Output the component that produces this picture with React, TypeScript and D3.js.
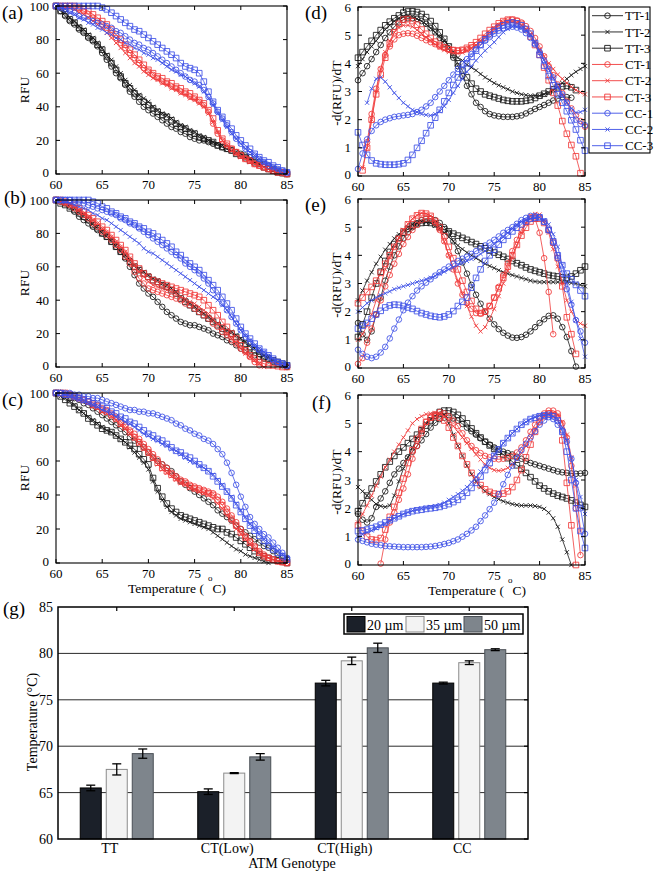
import React from "react";
import * as d3 from "d3";

// ---------- shared axes ----------
const TEMPS = d3.range(60, 85.25, 0.5); // 51 temperature steps
const SERIES_NAMES = ["TT-1", "TT-2", "TT-3", "CT-1", "CT-2", "CT-3", "CC-1", "CC-2", "CC-3"];
const X_TICKS = [60, 65, 70, 75, 80, 85];
const RFU_TICKS = [0, 20, 40, 60, 80, 100];
const DERIV_TICKS = [0, 1, 2, 3, 4, 5, 6];

// ---------- panel (a) RFU ----------
const A_TT1 = [100,97,94,91,89,86,84,81,79,76,72,68,64,60,57,53,49,46,43,40,38,36,34,32,30,28,27,25,24,22,21,20,20,19,18,17,16,15,14,13,12,11,10,8,7,6,5,3,2,1,0];
const A_TT2 = [100,98,96,93,91,88,86,83,81,78,75,71,68,64,60,56,53,50,47,45,43,40,38,36,35,33,31,29,28,26,25,23,22,20,19,18,17,15,14,13,12,10,9,7,6,4,3,2,1.5,1,0];
const A_TT3 = [100,97,95,92,90,87,85,82,80,77,74,70,66,62,58,54,51,48,46,43,41,39,37,35,34,32,30,28,27,25,24,22,21,20,19,17,16,15,14,12,11,10,8,7,6,4,3,2,1,0.5,0];
const A_CT1 = [100,100,100,100,99,98,97,95,93,91,89,87,84,81,78,75,72,69,66,63,61,59,57,55,54,52,51,49,48,46,45,43,41,37,30,24,20,17,15,13,11,9,8,6,5,4,3,2,1,0.5,0];
const A_CT2 = [100,100,99,99,98,96,95,93,91,89,87,84,81,78,75,72,69,66,64,61,59,57,56,54,53,51,50,48,47,45,44,42,40,36,31,25,20,17,14,12,10,9,7,6,5,4,3,2,1,0.5,0];
const A_CT3 = [100,100,100,100,100,99,98,97,95,93,91,89,86,83,80,77,74,71,68,65,62,60,58,57,55,54,52,51,49,48,46,44,42,38,33,26,21,18,15,13,11,9,8,6,5,4,3,2,1,1,0];
const A_CC1 = [100,99,98,97,96,94,93,92,91,90,89,88,87,85,84,82,80,78,77,75,74,72,70,68,66,64,62,60,58,56,55,53,50,46,42,37,33,29,25,21,18,15,13,11,9,7,5,4,3,2,1];
const A_CC2 = [100,99,98,96,95,93,92,90,89,87,86,84,83,81,80,78,77,75,74,72,71,69,68,66,64,62,61,59,58,56,54,52,49,45,41,36,32,28,24,21,18,15,13,11,9,7,6,4,3,2,1];
const A_CC3 = [100,100,100,100,100,100,100,100,100,100,99,98,96,94,92,90,88,86,85,83,81,79,77,75,73,71,69,66,64,63,62,60,55,49,43,38,34,30,27,23,20,17,15,12,10,8,7,5,4,2,1];

// ---------- panel (b) RFU ----------
const B_TT1 = [100,99,98,96,93,90,88,86,84,82,80,78,75,72,69,65,60,55,50,47,44,42,39,36,33,31,29,27,26,25,25,24,23,22,20,19,18,16,15,13,11,10,8,7,6,5,4,3,2,1,0];
const B_TT2 = [100,99,98,97,95,93,91,89,86,84,81,79,76,73,70,67,64,61,59,57,55,53,52,50,49,47,45,42,40,38,36,34,32,30,28,26,24,22,21,19,17,15,13,11,9,7,6,4,3,1,0];
const B_TT3 = [100,98,97,95,94,92,90,88,85,83,80,78,75,72,69,66,63,60,58,56,54,52,51,49,48,46,44,41,39,37,35,33,31,29,27,25,23,21,20,18,16,14,12,10,8,6,5,4,3,2,1];
const B_CT1 = [100,99,98,97,95,93,91,89,86,84,81,79,76,73,70,66,62,57,53,50,47,46,45,44,43,42,41,40,38,37,35,33,31,29,26,24,21,19,16,14,11,9,6,3,1,null,null,null,null,null,null];
const B_CT2 = [100,99,98,97,96,94,92,90,88,86,83,81,78,75,72,69,65,61,57,54,51,49,48,47,46,45,44,42,41,39,38,36,34,32,29,26,23,20,17,14,11,8,6,4,2,0,null,null,null,null,null];
const B_CT3 = [100,100,99,98,97,95,93,91,89,87,84,82,79,76,73,70,66,62,59,56,54,52,51,50,49,48,47,46,45,44,43,42,40,37,34,31,27,24,20,17,13,10,7,5,3,2,1,1,0.5,0,0];
const B_CC1 = [100,100,100,100,99,99,98,97,96,95,94,93,92,91,89,88,86,85,83,81,79,77,75,73,71,69,67,65,62,60,58,56,53,50,46,42,38,34,30,26,22,18,15,12,10,8,6,4,3,2,1];
const B_CC2 = [100,100,99,98,97,96,95,94,92,91,89,88,86,84,82,80,78,76,74,71,69,68,66,64,62,60,58,56,54,52,50,48,46,44,42,40,37,34,30,26,22,19,16,13,11,9,7,5,3,2,1];
const B_CC3 = [100,100,100,100,100,100,100,100,99,98,96,95,93,92,90,89,87,86,84,83,81,80,78,76,74,72,69,67,64,62,60,58,55,52,49,46,42,38,34,29,24,20,17,14,11,9,7,5,3,2,1];

// ---------- panel (c) RFU ----------
const C_TT1 = [100,100,99,98,97,96,94,93,91,89,87,85,83,81,79,77,74,72,70,68,65,62,60,58,56,54,51,48,46,44,42,40,38,36,34,31,29,27,25,22,20,18,16,14,12,10,9,7,5,3,2];
const C_TT2 = [100,98,97,95,93,90,88,86,84,82,80,78,77,75,73,71,68,65,62,59,55,48,42,37,33,30,28,26,25,24,23,22,21,20,18,16,14,12,10,8,7,5,4,3,2,1,0,null,null,null,null];
const C_TT3 = [100,98,96,94,92,90,88,85,83,81,79,78,77,75,73,71,69,67,64,61,58,50,44,39,35,32,30,28,27,26,25,24,23,22,21,20,20,18,17,15,13,11,9,7,5,4,3,2,1.5,1,0];
const C_CT1 = [100,100,99,99,98,97,96,95,94,93,91,90,88,86,83,81,78,76,73,70,67,64,61,58,56,53,51,49,48,46,45,44,43,42,41,39,36,32,28,24,20,16,13,10,7,5,3,2,1,0.5,0];
const C_CT2 = [100,100,99,98,97,96,95,94,92,91,89,88,86,84,81,79,76,73,70,67,64,61,58,55,53,51,49,47,46,44,43,42,41,40,38,35,32,28,24,20,17,14,11,8,6,4,3,2,1,0.5,0];
const C_CT3 = [100,100,100,99,98,97,96,95,93,92,90,89,87,85,82,80,77,74,71,68,65,62,59,56,54,52,50,48,47,45,44,43,42,41,40,37,34,30,26,22,18,15,12,9,6,4,3,2,1,0.5,0];
const C_CC1 = [100,100,100,100,99,99,98,98,97,97,96,95,94,93,92,91,90,90,89,89,88,88,87,86,85,84,82,81,79,78,76,75,73,72,70,67,64,59,53,46,39,33,27,23,20,17,15,12,9,6,3];
const C_CC2 = [100,100,99,98,97,96,95,94,93,92,90,89,88,86,85,83,82,80,78,76,75,73,72,70,69,67,66,64,62,60,59,57,56,54,52,49,46,42,39,35,31,27,23,20,17,14,12,9,7,5,3];
const C_CC3 = [100,100,99,99,98,97,96,95,94,93,92,91,89,88,86,85,83,82,80,78,76,75,73,72,70,68,66,65,63,62,60,58,56,54,51,48,45,42,38,34,30,26,22,19,16,13,10,8,6,4,2];

// ---------- panel (d) -d(RFU)/dT ----------
const D_TT1 = [3.4,3.65,3.9,4.15,4.4,4.65,4.9,5.1,5.3,5.45,5.55,5.6,5.6,5.58,5.5,5.4,5.25,5.1,4.9,4.7,4.5,4.2,3.9,3.55,3.2,2.9,2.6,2.45,2.3,2.2,2.15,2.12,2.1,2.1,2.1,2.12,2.15,2.22,2.3,2.38,2.45,2.52,2.6,2.68,2.75,2.8,2.8,2.78,null,null,null];
const D_TT2 = [3.9,4.15,4.4,4.6,4.8,5.0,5.2,5.35,5.5,5.6,5.65,5.67,5.65,5.58,5.5,5.38,5.25,5.1,4.95,4.8,4.6,4.4,4.2,4.1,3.95,3.85,3.75,3.62,3.5,3.4,3.3,3.22,3.15,3.08,3.0,2.95,2.9,2.87,2.85,2.85,2.85,2.9,2.95,3.05,3.15,3.3,3.45,3.58,3.7,3.8,3.9];
const D_TT3 = [4.2,4.4,4.6,4.8,5.0,5.18,5.35,5.48,5.6,5.7,5.8,5.84,5.85,5.82,5.75,5.64,5.5,5.32,5.1,4.87,4.6,4.3,4.0,3.74,3.5,3.28,3.1,3.0,2.9,2.85,2.8,2.75,2.7,2.67,2.65,2.65,2.65,2.67,2.7,2.77,2.85,2.92,3.0,3.08,3.15,3.18,3.2,3.15,3.05,null,null];
const D_CT1 = [null,null,1.2,2.2,3.1,3.8,4.3,4.6,4.85,5.0,5.05,5.07,5.05,4.98,4.9,4.82,4.75,4.68,4.6,4.55,4.5,4.47,4.45,4.46,4.5,4.57,4.65,4.77,4.9,5.05,5.2,5.33,5.45,5.52,5.55,5.52,5.45,5.32,5.15,4.9,4.6,4.25,3.9,3.58,3.25,2.95,2.65,2.4,2.15,1.95,1.75];
const D_CT2 = [null,0.3,1.0,2.0,3.0,3.8,4.4,4.8,5.1,5.27,5.35,5.35,5.3,5.18,5.05,4.92,4.8,4.67,4.55,4.47,4.4,4.37,4.35,4.38,4.45,4.54,4.65,4.8,4.95,5.1,5.25,5.37,5.45,5.49,5.5,5.45,5.35,5.2,5.0,4.77,4.5,4.25,4.0,3.8,3.6,3.45,3.3,3.17,3.05,2.97,2.9];
const D_CT3 = [null,0.2,1.0,2.0,2.9,3.6,4.2,4.7,5.1,5.4,5.55,5.57,5.5,5.37,5.2,5.05,4.9,4.77,4.65,4.57,4.5,4.47,4.45,4.48,4.55,4.64,4.75,4.9,5.05,5.18,5.3,5.42,5.5,5.55,5.55,5.5,5.4,5.2,4.95,4.65,4.3,3.85,3.4,2.95,2.5,1.95,1.5,1.1,0.7,0.1,null];
const D_CC1 = [0.25,0.8,1.3,1.6,1.8,1.92,2.0,2.05,2.1,2.12,2.15,2.17,2.2,2.27,2.35,2.47,2.6,2.8,3.0,3.2,3.4,3.6,3.8,3.98,4.15,4.33,4.5,4.65,4.8,4.93,5.05,5.16,5.25,5.29,5.3,5.27,5.2,5.07,4.9,4.67,4.4,4.1,3.8,3.5,3.2,2.9,2.6,2.3,2.0,1.85,1.8];
const D_CC2 = [null,null,2.6,3.1,3.45,3.5,3.35,3.15,2.95,2.77,2.6,2.47,2.35,2.27,2.2,2.17,2.15,2.2,2.3,2.48,2.7,2.95,3.2,3.45,3.7,3.9,4.1,4.28,4.45,4.6,4.75,4.93,5.1,5.22,5.3,5.3,5.25,5.15,5.0,4.75,4.45,4.12,3.8,3.47,3.15,2.87,2.6,2.4,2.25,2.27,2.35];
const D_CC3 = [1.55,1.1,0.75,0.55,0.45,0.42,0.4,0.4,0.4,0.42,0.45,0.57,0.75,1.0,1.25,1.52,1.8,2.07,2.35,2.65,2.95,3.23,3.5,3.75,4.0,4.23,4.45,4.65,4.85,5.0,5.15,5.26,5.35,5.42,5.45,5.42,5.35,5.22,5.05,4.72,4.3,3.92,3.55,3.22,2.9,2.6,2.3,1.98,1.65,1.27,0.9];

// ---------- panel (e) -d(RFU)/dT ----------
const E_TT1 = [1.6,1.2,1.0,1.3,1.9,2.5,3.1,3.6,4.0,4.32,4.6,4.82,5.0,5.14,5.25,5.3,5.3,5.25,5.15,5.0,4.8,4.5,4.15,3.75,3.35,2.95,2.6,2.28,2.0,1.75,1.55,1.38,1.25,1.15,1.08,1.07,1.1,1.18,1.3,1.45,1.6,1.73,1.85,1.87,1.75,1.45,1.1,0.6,0.05,null,null];
const E_TT2 = [2.4,2.75,3.1,3.4,3.7,3.95,4.2,4.4,4.6,4.75,4.9,5.0,5.1,5.15,5.2,5.18,5.15,5.05,4.95,4.8,4.65,4.5,4.35,4.22,4.1,4.0,3.9,3.8,3.7,3.62,3.55,3.47,3.4,3.35,3.3,3.25,3.2,3.15,3.1,3.07,3.05,3.05,3.05,3.05,3.05,3.05,3.05,3.02,3.0,2.95,2.9];
const E_TT3 = [1.1,1.55,2.0,2.5,3.0,3.42,3.8,4.12,4.4,4.62,4.8,4.94,5.05,5.11,5.15,5.16,5.15,5.1,5.0,4.92,4.85,4.77,4.7,4.62,4.55,4.47,4.4,4.32,4.25,4.17,4.1,4.02,3.95,3.87,3.8,3.72,3.65,3.57,3.5,3.45,3.4,3.35,3.3,3.27,3.25,3.22,3.2,3.25,3.35,3.47,3.6];
const E_CT1 = [0.15,0.35,0.9,1.4,1.9,2.4,2.9,3.3,3.7,4.05,4.4,4.65,4.9,5.08,5.25,5.3,5.3,5.15,4.9,4.5,4.0,3.5,3.0,2.6,2.3,2.1,1.95,1.93,2.0,2.2,2.5,2.88,3.3,3.72,4.15,4.55,4.9,5.17,5.35,5.3,4.8,3.9,2.7,1.2,null,null,null,null,null,null,null];
const E_CT2 = [1.0,1.2,1.5,1.9,2.4,2.95,3.5,3.92,4.3,4.62,4.9,5.12,5.3,5.42,5.5,5.48,5.4,5.2,4.9,4.48,4.0,3.55,3.1,2.65,2.2,1.82,1.5,1.3,1.45,1.75,2.1,2.55,3.0,3.45,3.9,4.35,4.8,5.15,5.4,5.47,5.45,5.2,4.8,4.22,3.6,3.0,2.4,2.0,1.7,1.58,1.5];
const E_CT3 = [2.3,2.5,2.7,2.88,3.1,3.38,3.7,4.0,4.3,4.58,4.85,5.1,5.3,5.42,5.5,5.48,5.4,5.22,5.0,4.68,4.3,3.9,3.5,3.1,2.7,2.38,2.1,1.95,2.0,2.2,2.5,2.83,3.2,3.6,4.0,4.37,4.7,4.98,5.2,5.3,5.3,5.15,4.9,4.45,3.9,2.9,1.8,1.2,0.5,null,null];
const E_CC1 = [0.65,0.5,0.4,0.35,0.4,0.55,0.75,1.05,1.4,1.72,2.05,2.32,2.55,2.75,2.9,3.03,3.15,3.28,3.4,3.5,3.6,3.7,3.8,3.88,3.95,4.05,4.15,4.25,4.35,4.45,4.55,4.67,4.8,4.9,5.0,5.12,5.25,5.33,5.4,5.4,5.35,5.18,4.9,4.45,3.9,3.35,2.8,2.25,1.7,1.3,0.9];
const E_CC2 = [2.0,2.15,2.3,2.4,2.5,2.58,2.65,2.72,2.8,2.85,2.9,2.95,3.0,3.05,3.1,3.15,3.2,3.27,3.35,3.42,3.5,3.57,3.65,3.72,3.8,3.87,3.95,4.05,4.15,4.27,4.4,4.52,4.65,4.8,4.95,5.08,5.2,5.25,5.3,5.33,5.35,5.25,5.1,4.75,4.3,3.65,3.0,2.35,1.7,1.05,0.4];
const E_CC3 = [1.4,1.5,1.6,1.75,1.9,2.03,2.15,2.22,2.25,2.24,2.2,2.15,2.1,2.02,1.95,1.9,1.85,1.82,1.8,1.83,1.9,2.02,2.2,2.35,2.5,2.85,3.2,3.5,3.8,4.0,4.2,4.38,4.55,4.7,4.85,4.98,5.1,5.2,5.3,5.33,5.35,5.2,4.9,4.5,4.0,3.65,3.35,3.15,2.95,2.75,2.55];

// ---------- panel (f) -d(RFU)/dT ----------
const F_TT1 = [1.8,1.6,1.5,1.65,2.05,2.35,2.6,2.9,3.2,3.4,3.6,3.8,4.0,4.2,4.4,4.62,4.85,5.02,5.15,5.2,5.2,5.17,5.1,4.98,4.85,4.72,4.6,4.47,4.35,4.25,4.15,4.07,4.0,3.95,3.9,3.82,3.75,3.67,3.6,3.55,3.5,3.45,3.4,3.35,3.3,3.27,3.25,3.23,3.22,3.23,3.25];
const F_TT2 = [2.75,2.6,2.45,2.3,2.15,2.08,2.05,2.1,2.45,2.95,3.4,3.8,4.15,4.48,4.8,5.0,5.15,5.25,5.32,5.3,5.0,4.6,4.2,3.85,3.5,3.2,2.95,2.75,2.6,2.5,2.4,2.32,2.25,2.2,2.15,2.12,2.1,2.1,2.1,2.08,2.05,1.98,1.85,1.65,1.35,0.9,0.45,0.0,null,null,null];
const F_TT3 = [1.9,2.18,2.45,2.7,2.95,3.2,3.45,3.65,3.85,4.0,4.15,4.3,4.45,4.6,4.75,4.92,5.1,5.27,5.4,5.45,5.45,5.4,5.3,5.17,5.0,4.82,4.65,4.5,4.35,4.22,4.1,4.0,3.9,3.77,3.65,3.52,3.4,3.25,3.1,2.95,2.8,2.7,2.6,2.52,2.45,2.4,2.35,2.28,2.2,2.12,2.05];
const F_CT1 = [null,null,null,null,null,0.05,0.9,1.5,1.85,2.3,2.7,3.2,3.75,4.2,4.65,5.05,5.2,5.32,5.4,5.35,5.25,5.1,4.9,4.65,4.4,4.2,4.05,3.95,3.85,3.8,3.75,3.73,3.75,3.8,3.85,3.97,4.15,4.4,4.7,4.95,5.2,5.35,5.45,5.45,5.35,5.0,4.5,3.5,2.0,0.35,null];
const F_CT2 = [1.5,1.8,2.1,2.45,2.8,3.12,3.45,3.72,4.0,4.25,4.5,4.75,5.0,5.15,5.25,5.32,5.35,5.37,5.35,5.25,5.1,4.9,4.7,4.5,4.3,4.1,3.9,3.72,3.55,3.43,3.35,3.33,3.35,3.43,3.55,3.73,3.95,4.2,4.5,4.78,5.05,5.25,5.35,5.37,5.3,5.05,4.6,3.8,2.8,1.2,null];
const F_CT3 = [1.4,1.2,1.0,0.9,0.88,0.95,1.25,1.7,2.05,2.55,3.05,3.6,4.05,4.45,4.8,5.05,5.2,5.25,5.2,5.1,4.85,4.5,4.2,3.85,3.55,3.25,3.0,2.82,2.67,2.58,2.52,2.5,2.52,2.6,2.75,3.0,3.35,3.8,4.25,4.7,5.05,5.25,5.35,5.3,5.2,4.4,2.9,1.4,0.0,null,null];
const F_CC1 = [0.9,0.85,0.8,0.75,0.72,0.7,0.67,0.66,0.65,0.64,0.63,0.63,0.63,0.63,0.63,0.64,0.65,0.67,0.7,0.74,0.78,0.84,0.9,1.0,1.1,1.22,1.35,1.55,1.75,1.97,2.2,2.5,2.85,3.18,3.5,3.78,4.05,4.28,4.5,4.72,4.95,5.1,5.22,5.15,4.95,4.75,4.35,3.75,2.9,2.0,1.1];
const F_CC2 = [1.0,1.08,1.15,1.22,1.3,1.38,1.45,1.55,1.65,1.72,1.8,1.86,1.92,1.96,2.0,2.03,2.05,2.08,2.12,2.2,2.3,2.4,2.5,2.62,2.75,2.92,3.1,3.3,3.5,3.7,3.9,4.1,4.3,4.48,4.65,4.8,4.95,5.05,5.15,5.22,5.28,5.3,5.3,5.25,5.15,4.85,4.4,3.75,3.0,2.4,1.8];
const F_CC3 = [1.2,1.22,1.25,1.3,1.35,1.42,1.5,1.58,1.65,1.72,1.8,1.85,1.9,1.93,1.95,1.98,2.0,2.02,2.05,2.1,2.15,2.22,2.3,2.42,2.55,2.72,2.9,3.12,3.35,3.6,3.85,4.08,4.3,4.48,4.65,4.8,4.95,5.05,5.15,5.2,5.25,5.28,5.3,5.25,5.1,4.7,4.0,3.0,2.0,1.2,0.6];

// ---------- panel (g) bars ----------
const GENOTYPES = ["TT", "CT(Low)", "CT(High)", "CC"];
const SIZES = ["20 µm", "35 µm", "50 µm"];
const MELT_20 = [65.5, 65.1, 76.8, 76.8];
const MELT_35 = [67.5, 67.1, 79.2, 79.0];
const MELT_50 = [69.2, 68.85, 80.6, 80.4];
const ERR_20 = [0.3, 0.3, 0.3, 0.1];
const ERR_35 = [0.6, 0.05, 0.4, 0.2];
const ERR_50 = [0.5, 0.35, 0.5, 0.1];
const BAR_TICKS = [60, 65, 70, 75, 80, 85];
const GRID_VALUES = [65, 70, 75, 80];

// ---------- styling ----------
const FONT = "'Liberation Serif', 'Times New Roman', serif";
const GROUP_COLORS = ["#161616", "#f03a3a", "#3d50e6"];
const MARKER_KINDS = ["circle", "x", "square"];

function markerD(kind: string, x: number, y: number): string {
  if (kind === "circle") {
    const r = 2.8;
    return `M${x - r},${y}a${r},${r} 0 1,0 ${2 * r},0a${r},${r} 0 1,0 ${-2 * r},0`;
  }
  if (kind === "square") {
    const h = 2.8;
    return `M${x - h},${y - h}h${2 * h}v${2 * h}h${-2 * h}Z`;
  }
  const h = 2.1;
  return `M${x - h},${y - h}L${x + h},${y + h}M${x - h},${y + h}L${x + h},${y - h}`;
}

type PanelProps = {
  x0: number; x1: number; y0: number; y1: number;
  yMax: number; yTicks: number[]; series: (number | null)[][];
};

function LinePanel({ x0, x1, y0, y1, yMax, yTicks, series }: PanelProps) {
  const xs = d3.scaleLinear().domain([60, 85]).range([x0, x1]);
  const ys = d3.scaleLinear().domain([0, yMax]).range([y1, y0]);
  const line = d3
    .line<[number, number | null]>()
    .defined((d) => d[1] != null)
    .x((d) => xs(d[0]))
    .y((d) => ys(d[1] as number));
  const tl = 4;
  return (
    <g>
      {series.map((vals, i) => {
        const pts: [number, number | null][] = TEMPS.map((t, j) => [t, vals[j] ?? null]);
        const color = GROUP_COLORS[Math.floor(i / 3)];
        const kind = MARKER_KINDS[i % 3];
        const md = pts
          .filter((p) => p[1] != null)
          .map((p) => markerD(kind, xs(p[0]), ys(p[1] as number)))
          .join("");
        return (
          <g key={i}>
            <path d={line(pts) || ""} fill="none" stroke={color} strokeWidth={0.8} />
            <path d={md} fill="none" stroke={color} strokeWidth={0.85} />
          </g>
        );
      })}
      <rect x={x0} y={y0} width={x1 - x0} height={y1 - y0} fill="none" stroke="#000" strokeWidth={1.1} />
      {X_TICKS.map((t) => (
        <g key={"xt" + t}>
          <line x1={xs(t)} x2={xs(t)} y1={y1} y2={y1 - tl} stroke="#000" />
          <line x1={xs(t)} x2={xs(t)} y1={y0} y2={y0 + tl} stroke="#000" />
          <text x={xs(t)} y={y1 + 15} textAnchor="middle" fontSize={13} fontFamily={FONT}>
            {t}
          </text>
        </g>
      ))}
      {yTicks.map((t) => (
        <g key={"yt" + t}>
          <line x1={x0} x2={x0 + tl} y1={ys(t)} y2={ys(t)} stroke="#000" />
          <line x1={x1} x2={x1 - tl} y1={ys(t)} y2={ys(t)} stroke="#000" />
          <text x={x0 - 7} y={t === 0 ? ys(t) - 2 : ys(t)} dy="0.35em" textAnchor="end" fontSize={13} fontFamily={FONT}>
            {t}
          </text>
        </g>
      ))}
    </g>
  );
}

function Legend() {
  const x0 = 589, y0 = 7, w = 61, h = 146;
  return (
    <g>
      <rect x={x0} y={y0} width={w} height={h} fill="#fff" stroke="#000" strokeWidth={1.1} />
      {SERIES_NAMES.map((name, i) => {
        const y = 15.7 + i * 16.25;
        const color = GROUP_COLORS[Math.floor(i / 3)];
        const kind = MARKER_KINDS[i % 3];
        return (
          <g key={name}>
            <line x1={592} x2={623} y1={y} y2={y} stroke={color} strokeWidth={0.9} />
            <path d={markerD(kind, 607.5, y)} fill="none" stroke={color} strokeWidth={0.9} />
            <text x={625} y={y} dy="0.35em" fontSize={13} fontFamily={FONT}>
              {name}
            </text>
          </g>
        );
      })}
    </g>
  );
}

function TempLabel({ x, y }: { x: number; y: number }) {
  return (
    <text x={x} y={y} fontSize={13.5} fontFamily={FONT}>
      Temperature (
      <tspan dx={4} dy={-12} fontSize={9}>
        o
      </tspan>
      <tspan dy={12}>C)</tspan>
    </text>
  );
}

function BarChart() {
  const left = 58, right = 528, top = 607, bottom = 839;
  const gx = d3.scaleBand<string>().domain(GENOTYPES).range([left, right]);
  const inner = d3.scaleBand<string>().domain(SIZES).range([0, 73]).paddingInner(5 / 26);
  const off = (gx.bandwidth() - 73) / 2;
  const gy = d3.scaleLinear().domain([60, 85]).range([bottom, top]);
  const values = [MELT_20, MELT_35, MELT_50];
  const errs = [ERR_20, ERR_35, ERR_50];
  const fills = ["#1b2029", "#f3f3f3", "#7e858c"];
  const strokes = ["#000", "#8a8a8a", "#4a4f55"];
  return (
    <g fontFamily={FONT}>
      {GRID_VALUES.map((v) => (
        <line key={"g" + v} x1={left} x2={right} y1={gy(v)} y2={gy(v)} stroke="#2a2a2a" strokeWidth={1} />
      ))}
      {GENOTYPES.map((g, gi) =>
        SIZES.map((s, si) => {
          const x = (gx(g) as number) + off + (inner(s) as number);
          const w = inner.bandwidth();
          const v = values[si][gi];
          const e = errs[si][gi];
          const cx = x + w / 2;
          return (
            <g key={g + s}>
              <rect x={x} y={gy(v)} width={w} height={gy(60) - gy(v)} fill={fills[si]} stroke={strokes[si]} strokeWidth={1} />
              <line x1={cx} x2={cx} y1={gy(v - e)} y2={gy(v + e)} stroke="#000" strokeWidth={1.3} />
              <line x1={cx - 4.5} x2={cx + 4.5} y1={gy(v - e)} y2={gy(v - e)} stroke="#000" strokeWidth={1.3} />
              <line x1={cx - 4.5} x2={cx + 4.5} y1={gy(v + e)} y2={gy(v + e)} stroke="#000" strokeWidth={1.3} />
            </g>
          );
        })
      )}
      <rect x={left} y={top} width={right - left} height={bottom - top} fill="none" stroke="#000" strokeWidth={1.5} />
      {GENOTYPES.map((g) => {
        const cx = (gx(g) as number) + gx.bandwidth() / 2;
        return (
          <g key={"t" + g}>
            <line x1={cx} x2={cx} y1={top} y2={top + 4} stroke="#000" strokeWidth={1.2} />
            <text x={cx - 7} y={853} textAnchor="middle" fontSize={14}>
              {g}
            </text>
          </g>
        );
      })}
      {BAR_TICKS.map((t) => (
        <g key={"bt" + t}>
          <line x1={right} x2={right - 4} y1={gy(t)} y2={gy(t)} stroke="#000" strokeWidth={1.2} />
          <text x={53} y={gy(t)} dy="0.35em" textAnchor="end" fontSize={14}>
            {t}
          </text>
        </g>
      ))}
      <text x={292} y={868} textAnchor="middle" fontSize={14}>
        ATM Genotype
      </text>
      <text transform="translate(37,722) rotate(-90)" textAnchor="middle" fontSize={14}>
        Temperature (°C)
      </text>
      {/* legend */}
      <rect x={344} y={614} width={179} height={20} fill="#fff" stroke="#000" strokeWidth={1.5} />
      {SIZES.map((s, i) => {
        const sx = [347, 406, 464][i];
        return (
          <g key={"lg" + s}>
            <rect x={sx} y={616.5} width={18} height={15.5} fill={fills[i]} stroke={strokes[i]} strokeWidth={1} />
            <text x={sx + 20} y={629.5} fontSize={14}>
              {s}
            </text>
          </g>
        );
      })}
      <text x={3} y={615} fontSize={19}>
        (g)
      </text>
    </g>
  );
}

export default function App() {
  const left = { x0: 56, x1: 287 };
  const right = { x0: 358, x1: 585 };
  const seriesA = [A_TT1, A_TT2, A_TT3, A_CT1, A_CT2, A_CT3, A_CC1, A_CC2, A_CC3];
  const seriesB = [B_TT1, B_TT2, B_TT3, B_CT1, B_CT2, B_CT3, B_CC1, B_CC2, B_CC3];
  const seriesC = [C_TT1, C_TT2, C_TT3, C_CT1, C_CT2, C_CT3, C_CC1, C_CC2, C_CC3];
  const seriesD = [D_TT1, D_TT2, D_TT3, D_CT1, D_CT2, D_CT3, D_CC1, D_CC2, D_CC3];
  const seriesE = [E_TT1, E_TT2, E_TT3, E_CT1, E_CT2, E_CT3, E_CC1, E_CC2, E_CC3];
  const seriesF = [F_TT1, F_TT2, F_TT3, F_CT1, F_CT2, F_CT3, F_CC1, F_CC2, F_CC3];
  return (
    <svg
      width={661}
      height={871}
      viewBox="0 0 661 871"
      style={{ position: "absolute", left: 0, top: 0, background: "#fff" }}
      fontFamily={FONT}
    >
      <rect x={0} y={0} width={661} height={871} fill="#fff" />
      <LinePanel {...left} y0={6} y1={174} yMax={100} yTicks={RFU_TICKS} series={seriesA} />
      <LinePanel {...left} y0={200} y1={367} yMax={100} yTicks={RFU_TICKS} series={seriesB} />
      <LinePanel {...left} y0={393} y1={563} yMax={100} yTicks={RFU_TICKS} series={seriesC} />
      <LinePanel {...right} y0={7} y1={176} yMax={6} yTicks={DERIV_TICKS} series={seriesD} />
      <LinePanel {...right} y0={199} y1={368} yMax={6} yTicks={DERIV_TICKS} series={seriesE} />
      <LinePanel {...right} y0={395} y1={565} yMax={6} yTicks={DERIV_TICKS} series={seriesF} />
      <Legend />
      {[90, 283, 478].map((cy, i) => (
        <text key={"rfu" + i} transform={`translate(29,${cy}) rotate(-90)`} textAnchor="middle" fontSize={13.5}>
          RFU
        </text>
      ))}
      {[93, 285, 482].map((cy, i) => (
        <text key={"der" + i} transform={`translate(341,${cy}) rotate(-90)`} textAnchor="middle" fontSize={13.5}>
          -d(RFU)/dT
        </text>
      ))}
      <TempLabel x={128} y={593} />
      <TempLabel x={428} y={595} />
      <text x={2} y={19} fontSize={19}>(a)</text>
      <text x={4} y={204} fontSize={19}>(b)</text>
      <text x={2} y={406} fontSize={19}>(c)</text>
      <text x={305} y={19} fontSize={19}>(d)</text>
      <text x={305} y={211} fontSize={19}>(e)</text>
      <text x={312} y={409} fontSize={19}>(f)</text>
      <BarChart />
    </svg>
  );
}
